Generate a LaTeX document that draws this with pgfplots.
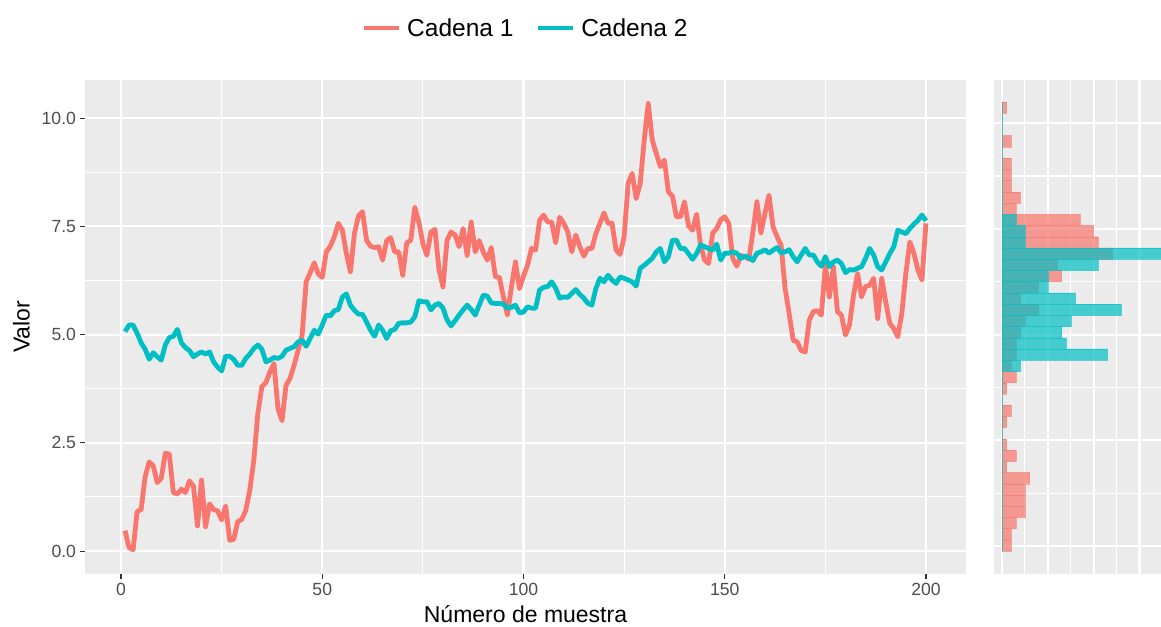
\documentclass[border=0pt]{standalone}
\usepackage{fontspec}
\setmainfont{Liberation Sans}
\usepackage{pgfplots}
\usepackage{pgfplotstable}
\pgfplotsset{compat=1.18}
\definecolor{cA}{HTML}{F8766D}
\definecolor{cB}{HTML}{00BFC4}
\definecolor{panelbg}{HTML}{EBEBEB}
\definecolor{tickgray}{HTML}{333333}
\definecolor{labgray}{HTML}{4D4D4D}

\pgfplotstableread{
i c1 c2
1 0.47 5.07
2 0.08 5.22
3 0.03 5.22
4 0.91 5.03
5 0.96 4.81
6 1.72 4.66
7 2.06 4.43
8 1.97 4.58
9 1.58 4.49
10 1.68 4.41
11 2.26 4.76
12 2.24 4.93
13 1.35 4.96
14 1.32 5.12
15 1.43 4.81
16 1.35 4.70
17 1.62 4.63
18 1.50 4.49
19 0.58 4.55
20 1.64 4.60
21 0.56 4.55
22 1.09 4.60
23 0.96 4.37
24 0.93 4.25
25 0.72 4.16
26 1.04 4.50
27 0.25 4.50
28 0.27 4.43
29 0.68 4.29
30 0.73 4.29
31 0.94 4.45
32 1.41 4.55
33 2.10 4.68
34 3.18 4.76
35 3.80 4.66
36 3.89 4.37
37 4.14 4.41
38 4.33 4.47
39 3.29 4.45
40 3.01 4.50
41 3.83 4.64
42 3.99 4.68
43 4.29 4.72
44 4.64 4.83
45 4.99 4.87
46 6.22 4.73
47 6.43 4.91
48 6.66 5.10
49 6.40 5.01
50 6.32 5.22
51 6.91 5.45
52 7.04 5.43
53 7.26 5.55
54 7.57 5.58
55 7.41 5.87
56 6.87 5.94
57 6.45 5.68
58 7.34 5.56
59 7.74 5.47
60 7.84 5.47
61 7.18 5.29
62 7.04 5.10
63 7.01 4.96
64 7.03 5.22
65 6.72 5.10
66 7.17 4.91
67 7.24 5.09
68 6.91 5.12
69 6.91 5.26
70 6.37 5.27
71 7.12 5.27
72 7.18 5.29
73 7.94 5.41
74 7.60 5.78
75 7.10 5.76
76 6.83 5.76
77 7.37 5.57
78 7.43 5.68
79 6.50 5.72
80 6.10 5.61
81 7.18 5.34
82 7.37 5.20
83 7.30 5.32
84 7.03 5.45
85 7.45 5.57
86 6.83 5.68
87 7.60 5.58
88 6.91 5.45
89 7.17 5.68
90 6.91 5.91
91 6.72 5.89
92 7.01 5.73
93 6.34 5.72
94 6.32 5.72
95 5.87 5.70
96 5.45 5.61
97 6.10 5.63
98 6.68 5.68
99 6.06 5.50
100 6.35 5.52
101 6.60 5.64
102 6.99 5.61
103 6.95 5.61
104 7.64 6.03
105 7.76 6.09
106 7.60 6.11
107 7.60 6.22
108 7.12 6.07
109 7.71 5.84
110 7.57 5.87
111 7.37 5.86
112 6.91 5.95
113 7.30 6.04
114 7.03 5.93
115 6.81 5.84
116 6.99 5.72
117 6.99 5.68
118 7.34 6.07
119 7.57 6.30
120 7.81 6.22
121 7.57 6.37
122 7.57 6.26
123 6.95 6.18
124 6.85 6.33
125 7.26 6.30
126 8.49 6.26
127 8.72 6.22
128 8.14 6.12
129 8.49 6.53
130 9.49 6.60
131 10.34 6.68
132 9.49 6.76
133 9.18 6.91
134 8.88 6.99
135 9.03 6.68
136 8.30 6.80
137 8.20 7.18
138 7.72 7.18
139 7.72 6.99
140 8.07 6.99
141 7.51 6.87
142 7.41 6.74
143 7.78 6.87
144 7.07 7.07
145 6.72 7.03
146 6.64 6.99
147 7.34 6.95
148 7.45 7.09
149 7.65 6.72
150 7.72 6.88
151 7.57 6.88
152 6.76 6.91
153 6.58 6.88
154 6.83 6.76
155 6.80 6.81
156 6.74 6.78
157 7.37 6.71
158 8.07 6.88
159 7.35 6.91
160 7.80 6.96
161 8.22 6.88
162 7.49 6.95
163 7.26 7.01
164 7.07 6.89
165 6.07 6.91
166 5.49 6.96
167 4.87 6.80
168 4.83 6.68
169 4.63 6.84
170 4.60 6.99
171 5.33 6.84
172 5.53 6.84
173 5.55 6.68
174 5.45 6.58
175 6.60 6.80
176 5.87 6.57
177 6.57 6.68
178 5.53 6.72
179 5.45 6.64
180 4.99 6.43
181 5.22 6.50
182 5.91 6.49
183 6.41 6.53
184 5.87 6.57
185 6.11 6.76
186 6.14 6.99
187 6.30 6.84
188 5.37 6.57
189 6.30 6.49
190 5.76 6.68
191 5.26 6.87
192 5.14 7.03
193 4.95 7.41
194 5.49 7.37
195 6.41 7.33
196 7.14 7.45
197 6.88 7.55
198 6.49 7.64
199 6.26 7.76
200 7.57 7.63
}\chains

\pgfplotstableread{
y r t
0.012 2 0
0.278 2 0
0.543 3 0
0.809 5 0
1.074 5 0
1.340 5 0
1.605 6 0
1.871 1 0
2.136 3 0
2.402 1 0
2.667 0 0
2.933 1 0
3.198 2 0
3.464 0 0
3.729 1 0
3.995 3 0
4.260 2 4
4.526 3 23
4.791 3 14
5.057 4 13
5.322 5 15
5.588 8 26
5.853 4 16
6.119 8 10
6.384 13 10
6.650 12 21
6.915 24 35
7.181 21 5
7.446 20 5
7.712 17 3
7.977 3 0
8.243 4 0
8.508 2 0
8.774 2 0
9.039 2 0
9.305 0 0
9.570 2 0
9.836 0 0
10.101 0 0
10.367 1 0
}\hist

\pgfplotsset{
  ggpanel/.style={
    scale only axis,
    anchor=south west,
    axis background/.style={fill=panelbg},
    axis line style={draw=none},
    grid=both,
    minor tick num=1,
    major grid style={white, line width=2.1pt},
    minor grid style={white, line width=1.1pt},
    tick align=outside,
    minor tick length=0pt,
    tick style={tickgray, line width=1.1pt},
    xtick pos=bottom, ytick pos=left,
  }
}

\begin{document}
\begin{tikzpicture}[x=1pt,y=1pt]
\path[use as bounding box] (0,0) rectangle (1161,626);
\begin{axis}[ggpanel,
  at={(85pt,52pt)}, width=881pt, height=494pt,
  xmin=-8.95, xmax=209.95, ymin=-0.53, ymax=10.88,
  xtick={0,50,100,150,200}, ytick={0,2.5,5,7.5,10},
  major tick length=5.5pt,
  /pgf/number format/assume math mode=true,
  ticklabel style={font=\fontsize{17.6}{20}\selectfont, text=labgray},
  yticklabel style={/pgf/number format/.cd, fixed, fixed zerofill, precision=1},
  xlabel={Número de muestra}, ylabel={Valor},
  label style={font=\fontsize{23}{27}\selectfont, text=black},
  xlabel style={yshift=-3pt},
  ylabel style={yshift=5pt},
  legend style={at={(0.5,1)}, anchor=center, yshift=52pt, draw=none, fill=none,
    legend columns=2, font=\fontsize{24.5}{28}\selectfont,
    /tikz/every odd column/.append style={column sep=4pt},
    /tikz/every even column/.append style={column sep=20pt}},
  legend image code/.code={\draw[#1] (0pt,0pt) -- (35pt,0pt);},
]
\addplot[cA, line width=4.8pt, line join=round] table[x=i, y=c1] {\chains};
\addlegendentry{Cadena 1}
\addplot[cB, line width=4.8pt, line join=round] table[x=i, y=c2] {\chains};
\addlegendentry{Cadena 2}
\end{axis}
\begin{axis}[ggpanel,
  at={(994pt,52pt)}, width=167pt, height=494pt,
  xmin=-1.75, xmax=34.7, ymin=-0.662, ymax=11.02,
  xtick={0,10,20,30}, ytick={0,2.5,5,7.5,10},
  xticklabels={}, yticklabels={},
  major tick length=0pt,
]
\addplot[xbar, bar shift=0pt, bar width=0.2655, fill=cA, fill opacity=0.7, draw=cA, draw opacity=0.6, line width=0.4pt] table[x=r, y=y] {\hist};
\addplot[xbar, bar shift=0pt, bar width=0.2655, fill=cB, fill opacity=0.7, draw=cB, draw opacity=0.6, line width=0.4pt] table[x=t, y=y] {\hist};
\end{axis}
\end{tikzpicture}
\end{document}
